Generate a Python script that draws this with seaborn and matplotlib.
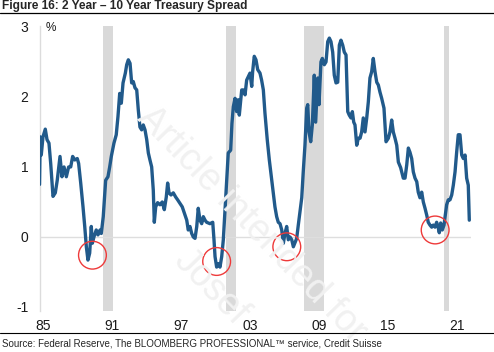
import matplotlib
matplotlib.use("Agg")
import matplotlib.pyplot as plt
import matplotlib.lines as mlines
import seaborn as sns
import pandas as pd

# ---- data ----
years = [1984.70, 1984.76, 1984.85, 1985.00, 1985.20, 1985.35, 1985.52, 1985.67, 1985.87,
         1986.07, 1986.24, 1986.48, 1986.65, 1986.83, 1987.03, 1987.23, 1987.41, 1987.58,
         1987.76, 1987.98, 1988.10, 1988.28, 1988.48, 1988.63, 1988.77, 1988.91, 1989.06,
         1989.20, 1989.29, 1989.43, 1989.63, 1989.78, 1989.96, 1990.07, 1990.24, 1990.45,
         1990.65, 1990.80, 1990.94, 1991.17, 1991.37, 1991.52, 1991.67, 1991.81, 1991.96,
         1992.16, 1992.28, 1992.42, 1992.57, 1992.71, 1992.85, 1993.00, 1993.15, 1993.29,
         1993.43, 1993.58, 1993.72, 1993.87, 1994.02, 1994.16, 1994.30, 1994.45, 1994.59,
         1994.68, 1994.80, 1994.97, 1995.17, 1995.37, 1995.55, 1995.72, 1995.84, 1995.96,
         1996.13, 1996.33, 1996.54, 1996.71, 1996.91, 1997.11, 1997.29, 1997.50, 1997.63,
         1997.78, 1997.93, 1998.07, 1998.22, 1998.37, 1998.50, 1998.65, 1998.80, 1998.94,
         1999.09, 1999.23, 1999.52, 1999.76, 1999.87, 1999.96, 2000.10, 2000.24, 2000.39,
         2000.54, 2000.68, 2000.83, 2000.97, 2001.11, 2001.32, 2001.43, 2001.55, 2001.70,
         2001.84, 2001.98, 2002.07, 2002.28, 2002.42, 2002.57, 2002.71, 2002.85, 2003.00,
         2003.15, 2003.23, 2003.37, 2003.52, 2003.67, 2003.87, 2004.01, 2004.16, 2004.30,
         2004.50, 2004.68, 2004.89, 2005.03, 2005.17, 2005.32, 2005.46, 2005.61, 2005.76,
         2005.90, 2006.04, 2006.19, 2006.33, 2006.48, 2006.63, 2006.77, 2006.91, 2007.06,
         2007.20, 2007.35, 2007.50, 2007.63, 2007.78, 2007.93, 2008.02, 2008.13, 2008.28,
         2008.42, 2008.59, 2008.71, 2008.89, 2009.00, 2009.17, 2009.29, 2009.46, 2009.61,
         2009.76, 2009.90, 2010.04, 2010.19, 2010.33, 2010.48, 2010.63, 2010.77, 2010.91,
         2011.06, 2011.20, 2011.35, 2011.50, 2011.63, 2011.78, 2011.90, 2012.02, 2012.13,
         2012.28, 2012.42, 2012.57, 2012.71, 2012.85, 2013.00, 2013.15, 2013.29, 2013.43,
         2013.58, 2013.72, 2013.87, 2014.02, 2014.16, 2014.30, 2014.45, 2014.65, 2014.83,
         2015.03, 2015.17, 2015.32, 2015.46, 2015.61, 2015.76, 2015.90, 2016.10, 2016.33,
         2016.48, 2016.63, 2016.77, 2016.91, 2017.06, 2017.20, 2017.35, 2017.50, 2017.63,
         2017.78, 2017.93, 2018.07, 2018.22, 2018.37, 2018.50, 2018.65, 2018.80, 2018.94,
         2019.09, 2019.23, 2019.37, 2019.46, 2019.58, 2019.72, 2019.87, 2019.98, 2020.10,
         2020.24, 2020.39, 2020.54, 2020.68, 2020.83, 2020.97, 2021.11, 2021.26, 2021.41,
         2021.55, 2021.70, 2021.84, 2021.98, 2022.07]
spread = [0.75, 1.43, 1.17, 1.43, 1.54, 1.39, 1.34, 1.05, 0.58,
          0.63, 0.81, 1.15, 0.86, 1.00, 0.86, 1.00, 1.00, 1.15,
          1.10, 1.12, 1.05, 0.77, 0.43, 0.15, -0.14, -0.33, -0.23,
          0.15, -0.09, 0.00, 0.10, 0.03, 0.10, 0.05, 0.29, 0.81,
          0.86, 1.00, 1.15, 1.34, 1.46, 1.72, 2.05, 1.91, 2.20,
          2.34, 2.46, 2.53, 2.48, 2.20, 2.22, 2.13, 2.10, 1.81,
          1.57, 1.53, 1.60, 1.53, 1.39, 1.20, 1.10, 1.00, 0.67,
          0.21, 0.43, 0.49, 0.46, 0.50, 0.39, 0.57, 0.77, 0.63,
          0.60, 0.63, 0.57, 0.53, 0.48, 0.43, 0.34, 0.24, 0.10,
          0.15, 0.05, 0.00, -0.02, 0.15, 0.41, 0.24, 0.19, 0.29,
          0.24, 0.21, 0.19, 0.21, -0.04, -0.28, -0.43, -0.38, -0.43,
          -0.28, -0.04, 0.39, 0.77, 1.20, 1.24, 1.62, 1.86, 1.98,
          1.79, 1.96, 1.74, 2.10, 2.10, 2.03, 2.24, 2.29, 2.34,
          2.15, 2.36, 2.58, 2.53, 2.39, 2.34, 2.24, 2.10, 1.77,
          1.39, 1.10, 0.81, 0.63, 0.43, 0.29, 0.21, 0.19, 0.10,
          -0.09, 0.05, 0.15, -0.04, 0.00, -0.04, -0.14, -0.08, -0.02,
          0.17, 0.36, 0.56, 0.93, 1.31, 1.84, 1.89, 1.50, 1.36,
          1.60, 2.31, 1.64, 2.27, 1.89, 2.50, 2.55, 2.46, 2.50,
          2.79, 2.84, 2.79, 2.64, 2.31, 2.20, 2.21, 2.74, 2.81,
          2.74, 2.64, 2.60, 1.79, 1.74, 1.70, 1.79, 1.64, 1.60,
          1.31, 1.41, 1.41, 1.50, 1.70, 1.50, 1.70, 1.93, 2.27,
          2.36, 2.55, 2.36, 2.21, 2.17, 2.07, 1.98, 1.84, 1.36,
          1.41, 1.50, 1.67, 1.50, 1.41, 1.31, 1.07, 0.99, 0.84,
          0.84, 1.03, 1.27, 1.21, 1.12, 0.93, 0.84, 0.79, 0.64,
          0.56, 0.64, 0.50, 0.41, 0.31, 0.21, 0.17, 0.14, 0.17,
          0.14, 0.21, 0.13, 0.06, 0.20, 0.10, 0.17, 0.31, 0.46,
          0.53, 0.53, 0.60, 0.74, 0.93, 1.21, 1.46, 1.46, 1.17,
          1.12, 1.17, 0.84, 0.74, 0.24]

recession_start = [1990.22, 2000.91, 2007.70, 2019.90]
recession_end = [1991.09, 2001.78, 2009.43, 2020.33]

circle_years = [1989.30, 2000.10, 2006.20, 2019.10]
circle_values = [-0.26, -0.35, -0.14, 0.10]

xtick_years = [1985, 1991, 1997, 2003, 2009, 2015, 2021]
xtick_labels = ["85", "91", "97", "03", "09", "15", "21"]
ytick_values = [-1, 0, 1, 2, 3]
ytick_labels = ["-1", "0", "1", "2", "3"]

title = "Figure 16: 2 Year \u2013 10 Year Treasury Spread"
source = "Source: Federal Reserve, The BLOOMBERG PROFESSIONAL\u2122 service, Credit Suisse"

# ---- style ----
sns.set_style("white")
plt.rcParams["font.family"] = ["Liberation Sans", "DejaVu Sans"]

W, H = 494, 352
fig = plt.figure(figsize=(W / 100, H / 100), dpi=100)
ax = fig.add_axes([40 / W, (H - 310.5) / H, 430.8 / W, 285 / H])

df = pd.DataFrame({"year": years, "spread": spread})

for s, e in zip(recession_start, recession_end):
    ax.axvspan(s, e, color="#d9d9d9", lw=0, zorder=0)

ax.axhline(0, color="#dedede", lw=1.0, zorder=1)

sns.lineplot(data=df, x="year", y="spread", ax=ax, color="#215a8b",
             lw=2.4, zorder=3, estimator=None, sort=False)

ax.scatter(circle_years, circle_values, s=400, facecolors="none",
           edgecolors="#ee3a3a", linewidths=1.0, zorder=4)

ax.set_xlim(1984.74, 2022.2)
ax.set_ylim(-1.05, 3.02)
ax.set_xticks(xtick_years)
ax.set_xticklabels(xtick_labels)
ax.set_yticks(ytick_values)
ax.set_yticklabels(ytick_labels)
ax.set_xlabel("")
ax.set_ylabel("")
ax.tick_params(axis="both", length=0, labelsize=10, colors="#1a1a1a")
ax.tick_params(axis="y", pad=8.5)
ax.tick_params(axis="x", pad=6)

for side in ["top", "right", "bottom"]:
    ax.spines[side].set_visible(False)
ax.spines["left"].set_color("#dcdcdc")
ax.spines["left"].set_linewidth(1.0)

ax.text(1985.7, 2.98, "%", fontsize=8.5, color="#1a1a1a", va="center", ha="center")

# faint watermark
fig.text(143 / W, 1 - 112 / H, "Article intended for", fontsize=27, color="#f1f1f1",
         rotation=-46, rotation_mode="anchor", ha="left", va="center", zorder=0.5)
fig.text(180 / W, 1 - 255 / H, "Josef", fontsize=27, color="#f1f1f1",
         rotation=-46, rotation_mode="anchor", ha="left", va="center", zorder=0.5)

# title, rules, source
fig.text(2 / W, 1 - 6 / H, title, fontsize=8.6, fontweight="bold", va="center", ha="left")
fig.add_artist(mlines.Line2D([0, 1], [1 - 13 / H, 1 - 13 / H], color="black", lw=0.9,
                             transform=fig.transFigure))
fig.add_artist(mlines.Line2D([0, 1], [1 - 333 / H, 1 - 333 / H], color="black", lw=0.8,
                             transform=fig.transFigure))
fig.text(2 / W, 1 - 343 / H, source, fontsize=7, va="center", ha="left")

fig.savefig("out.png", dpi=100)
